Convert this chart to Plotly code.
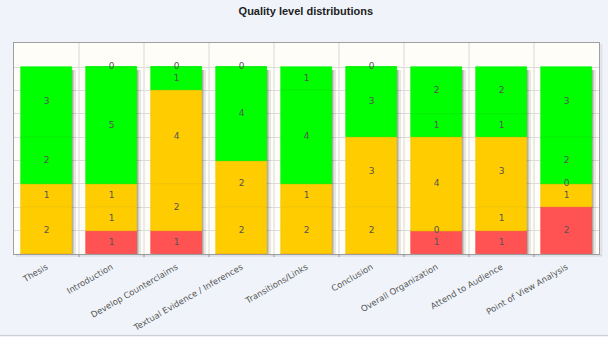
import plotly.graph_objects as go

categories = ["Thesis", "Introduction", "Develop Counterclaims",
              "Textual Evidence / Inferences", "Transitions/Links", "Conclusion",
              "Overall Organization", "Attend to Audience", "Point of View Analysis"]

# stacked from bottom to top
level1 = [None, 1, 1, None, None, None, 1, 1, 2]   # red
level2 = [2, 1, 2, 2, 2, 2, 0, 1, 1]               # yellow
level3 = [1, 1, 4, 2, 1, 3, 4, 3, 0]               # yellow
level4 = [2, 5, 1, 4, 4, 3, 1, 1, 2]               # green
level5 = [3, 0, 0, 0, 1, 0, 2, 2, 3]               # green

series = [level1, level2, level3, level4, level5]
colors = ["#FF5252", "#FFCC00", "#FFCC00", "#00FF00", "#00FF00"]
edge_colors = ["#F04848", "#F2C200", "#F2C200", "#00EE00", "#00EE00"]

BAR_W = 0.77
n = len(categories)
idx = list(range(n))

fig = go.Figure()

# totals for shadows
totals = [sum(v for v in col if v is not None) for col in zip(*series)]
for k, (dx, op) in enumerate([(0.02, 0.13), (0.045, 0.12), (0.07, 0.09)]):
    fig.add_trace(go.Bar(
        x=idx, y=[t - 0.12 for t in totals], base=[0] * n,
        width=BAR_W, offset=-BAR_W / 2 + dx,
        marker=dict(color=f"rgba(0,0,0,{op})", line=dict(width=0)),
        hoverinfo="skip", showlegend=False))

base = [0] * n
text_x, text_y, text_s = [], [], []
for vals, col, ec in zip(series, colors, edge_colors):
    ys = [v if v is not None else 0 for v in vals]
    fig.add_trace(go.Bar(
        x=idx, y=ys, base=list(base), width=BAR_W, offset=-BAR_W / 2,
        marker=dict(color=col, line=dict(width=0.6, color=ec)),
        hoverinfo="skip", showlegend=False))
    for j, v in enumerate(vals):
        if v is not None:
            text_x.append(j)
            text_y.append(base[j] + v / 2)
            text_s.append(str(v))
    base = [b + y for b, y in zip(base, ys)]

fig.add_trace(go.Scatter(
    x=text_x, y=text_y, text=text_s, mode="text",
    textfont=dict(family="DejaVu Sans", size=9, color="#555555"),
    hoverinfo="skip", showlegend=False))

fig.update_layout(
    width=608, height=337,
    margin=dict(l=13.5, r=9, t=43, b=83, autoexpand=False),
    paper_bgcolor="#F0F4FA",
    plot_bgcolor="#FFFDF7",
    barmode="overlay",
    title=dict(text="<b>Quality level distributions</b>", x=0.503, xanchor="center",
               y=0.967, yanchor="middle",
               font=dict(family="Liberation Sans", size=11, color="#222222")),
    xaxis=dict(
        range=[-0.5, n - 0.5],
        tickmode="array", tickvals=idx, ticktext=categories,
        tickangle=-30,
        ticklabelstandoff=4,
        automargin=False,
        tickfont=dict(family="DejaVu Sans", size=8.5, color="#555555"),
        showgrid=False,
        showline=True, linecolor="#A0A0A0", linewidth=1, mirror=True,
        ticks="", zeroline=False, fixedrange=True),
    yaxis=dict(
        range=[0, 9.03], dtick=1, tick0=0,
        showticklabels=False, showgrid=True, gridcolor="#DCDCDC", gridwidth=1,
        showline=True, linecolor="#A0A0A0", linewidth=1, mirror=True,
        zeroline=False, fixedrange=True),
    bargap=0,
)

# vertical grid lines at category boundaries
for j in range(1, n):
    fig.add_shape(type="line", xref="x", yref="paper", x0=j - 0.5, x1=j - 0.5,
                  y0=0, y1=1, line=dict(color="#D8D8D8", width=1), layer="below")
    fig.add_shape(type="line", xref="x", yref="paper", x0=j - 0.5, x1=j - 0.5,
                  y0=0, y1=-0.015, line=dict(color="#A0A0A0", width=1))

# soft frame shadow and bottom rule
fig.add_shape(type="line", xref="paper", yref="paper", x0=1.004, x1=1.004, y0=-0.01, y1=0.995,
              line=dict(color="rgba(0,0,0,0.08)", width=2))
fig.add_shape(type="line", xref="paper", yref="paper", x0=0.003, x1=1.004, y0=-0.008, y1=-0.008,
              line=dict(color="rgba(0,0,0,0.08)", width=2))
fig.add_shape(type="line", xref="paper", yref="paper", x0=-0.03, x1=1.02, y0=-0.386, y1=-0.386,
              line=dict(color="#C8CCD2", width=1))

fig.write_html("out.html")
